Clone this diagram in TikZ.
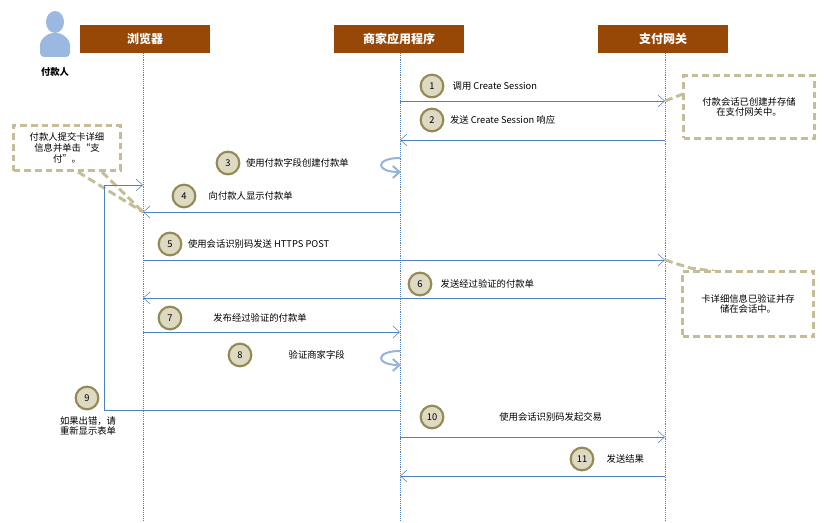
\documentclass[tikz,border=0pt]{standalone}
\usepackage{fontspec}
\setmainfont{Noto Sans CJK SC}
\usetikzlibrary{arrows.meta}
\usetikzlibrary{positioning}
\definecolor{head-brown}{RGB}{151, 71, 6}
\definecolor{msg-blue}{RGB}{79, 129, 189}
\definecolor{step-fill}{RGB}{221, 217, 195}
\definecolor{step-draw}{RGB}{148, 138, 84}
\definecolor{note-tan}{RGB}{196, 189, 151}
\definecolor{actor-blue}{RGB}{155, 184, 224}
\tikzset{
  header/.style={fill=head-brown, text=white, font=\bfseries\small, minimum width=98pt, minimum height=21pt, inner sep=0pt},
  life/.style={msg-blue, densely dotted, thin},
  msg/.style={msg-blue, -{Straight Barb[length=5pt,width=9pt]}},
  stepmark/.style={circle, fill=step-fill, draw=step-draw, line width=1.6pt, minimum size=17pt, inner sep=0pt, font=\scriptsize},
  lbl/.style={anchor=west, font=\scriptsize, inner sep=1pt},
  note/.style={draw=note-tan, line width=2pt, dash pattern=on 5pt off 3pt, align=center, font=\scriptsize, fill=white},
  tail/.style={draw=note-tan, line width=2.2pt, dash pattern=on 6pt off 3pt}
}
\begin{document}
\begin{tikzpicture}[x=0.75pt, y=-0.75pt]
\useasboundingbox (0,0) rectangle (824,523);
% lanes
\node[header] (browser) at (145,39) {浏览器};
\node[header] (merchant) at (399,39) {商家应用程序};
\node[header] (gateway) at (663,39) {支付网关};
\coordinate (bEnd) at (143,520);
\coordinate (mEnd) at (400,520);
\coordinate (gEnd) at (665,520);
\draw[life] (143,53) -- (bEnd);
\draw[life] (400,53) -- (mEnd);
\draw[life] (665,53) -- (gEnd);
% payer
\fill[actor-blue] (55,22) ellipse (9 and 11);
\fill[actor-blue, rounded corners=3pt] (40,57) -- (40,41) -- (49,33) -- (61,33) -- (70,41) -- (70,57) -- cycle;
\node[font=\bfseries\scriptsize] (payer) at (55,72) {付款人};
% notes
\draw[tail] (78,172) -- (143,212);
\draw[tail] (102,172) -- (143,212);
\draw[tail] (665,101) -- (683,94);
\draw[tail] (665,260) -- (690,268) -- (720,272);
\node[note, minimum width=80pt, minimum height=34pt] (noteCard) at (67,148) {付款人提交卡详细\\信息并单击“支\\付”。};
\node[note, minimum width=98pt, minimum height=47pt] (noteSession) at (749,107) {付款会话已创建并存储\\在支付网关中。};
\node[note, minimum width=98pt, minimum height=49pt] (noteVerify) at (748,304) {卡详细信息已验证并存\\储在会话中。};
% messages
\coordinate (m1) at (400,101); \coordinate (g1) at (665,101);
\draw[msg] (m1) -- (g1);
\node[stepmark] (s1) at (432,86) {1};
\node[lbl, right=5pt of s1] {调用 Create Session};
\coordinate (g2) at (665,140); \coordinate (m2) at (400,140);
\draw[msg] (g2) -- (m2);
\node[stepmark] (s2) at (432,120) {2};
\node[lbl, right=3pt of s2] {发送 Create Session 响应};
\coordinate (m3) at (400,158);
\draw[msg-blue!60, line width=1.5pt, -{Straight Barb[length=5pt,width=9pt]}] (m3) .. controls (375,158) and (375,172) .. (401,172);
\node[stepmark] (s3) at (228,163) {3};
\node[lbl, right=3pt of s3] {使用付款字段创建付款单};
\coordinate (m4) at (400,212); \coordinate (b4) at (143,212);
\draw[msg] (m4) -- (b4);
\node[stepmark] (s4) at (184,196) {4};
\node[lbl, right=8pt of s4] {向付款人显示付款单};
\coordinate (b5) at (143,260); \coordinate (g5) at (665,260);
\draw[msg] (b5) -- (g5);
\node[stepmark] (s5) at (170,244) {5};
\node[lbl, right=3pt of s5] {使用会话识别码发送 HTTPS POST};
\coordinate (g6) at (665,298); \coordinate (b6) at (143,298);
\draw[msg] (g6) -- (b6);
\node[stepmark] (s6) at (420,284) {6};
\node[lbl, right=5pt of s6] {发送经过验证的付款单};
\coordinate (b7) at (143,332); \coordinate (m7) at (400,332);
\draw[msg] (b7) -- (m7);
\node[stepmark] (s7) at (170,318) {7};
\node[lbl, right=22pt of s7] {发布经过验证的付款单};
\coordinate (m8) at (400,351);
\draw[msg-blue!60, line width=1.5pt, -{Straight Barb[length=5pt,width=9pt]}] (m8) .. controls (375,351) and (375,365) .. (401,365);
\node[stepmark] (s8) at (240,355) {8};
\node[lbl, right=26pt of s8] {验证商家字段};
\coordinate (m9) at (400,410); \coordinate (b9) at (143,185);
\draw[msg] (m9) -- (104,410) -- (104,185) -- (b9);
\node[stepmark] (s9) at (87,398) {9};
\node[font=\scriptsize, align=center] (err) at (88,426) {如果出错，请\\重新显示表单};
\coordinate (m10) at (400,437); \coordinate (g10) at (665,437);
\draw[msg] (m10) -- (g10);
\node[stepmark] (s10) at (432,417) {10};
\node[lbl, right=40pt of s10] {使用会话识别码发起交易};
\coordinate (g11) at (665,476); \coordinate (m11) at (400,476);
\draw[msg] (g11) -- (m11);
\node[stepmark] (s11) at (582,459) {11};
\node[lbl, right=8pt of s11] {发送结果};
\end{tikzpicture}
\end{document}
